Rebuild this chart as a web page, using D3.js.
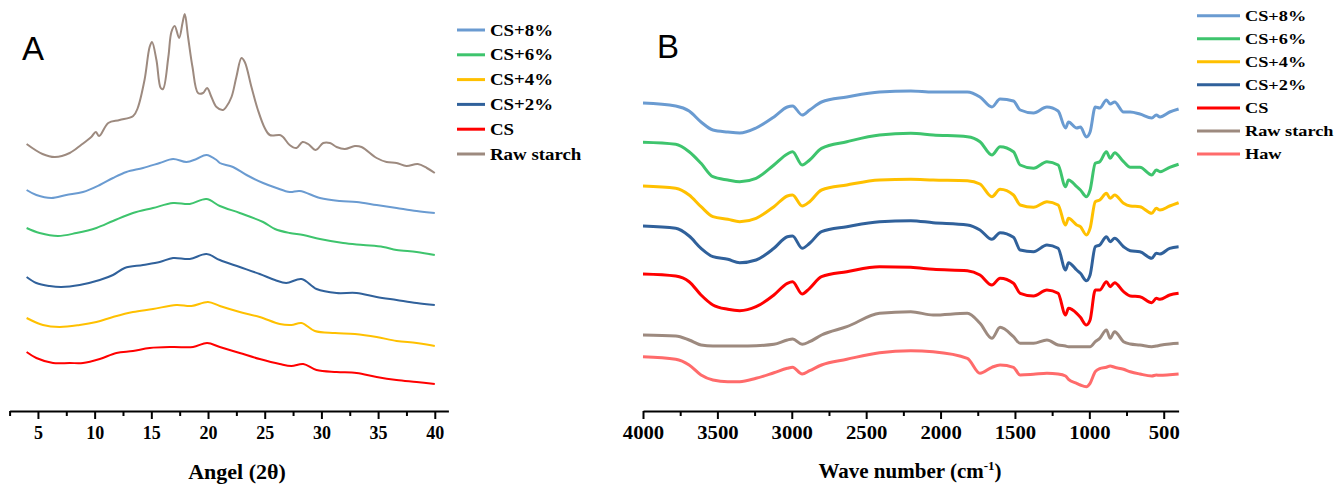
<!DOCTYPE html>
<html>
<head>
<meta charset="utf-8">
<script src="https://cdn.jsdelivr.net/npm/d3@7/dist/d3.min.js"></script>
<style>
  body { margin: 0; background: #fff; }
  svg { display: block; }
</style>
</head>
<body>
<div id="my_dataviz"></div>
<script>
// ---- data ----
// A: XRD patterns, [angle 2theta, intensity (a.u., stacked)]
const rawStarchXrd = [[4,267],[5.4,257],[6.5,254],[7.8,258],[8.8,266],[9.7,274],[10.1,279],[10.4,275],[11.2,288],[12.2,291],[13.4,295],[13.8,303],[14.4,331],[14.85,364],[15.06,369],[15.45,351],[15.83,323],[16.03,322],[16.5,354],[16.77,379],[17.06,385],[17.45,373],[17.75,388],[17.95,397],[18.24,374],[18.63,344],[19.12,318],[19.56,318],[19.92,323],[20.3,314],[20.75,304],[21.33,301],[21.6,304],[22.07,314],[22.5,334],[22.95,353],[23.24,349],[23.83,324],[24.4,301],[25.0,283],[25.45,276],[26.33,276],[26.62,274],[27.2,266],[27.8,263],[28.34,269],[28.83,267],[29.5,261],[30.16,268],[30.75,268],[31.34,264],[32.07,262],[32.95,265],[33.54,264],[34.87,253],[35.75,249],[36.63,248],[37.5,245],[38.5,247],[39.3,243],[40,238]];
const cs8Xrd = [[4,221],[4.86,216],[6.18,213],[7.5,216],[8.97,219],[10.45,226],[11.62,233],[12.8,239],[14.27,243],[15.74,248],[16.92,252],[18.1,249],[18.98,252],[19.86,256],[20.75,251],[21.04,248],[22.2,244],[23.4,236],[24.86,228],[26.04,223],[27.2,219],[28.1,220],[29.87,213],[31.63,210],[33.1,209],[34.87,206],[36.63,203],[38.4,200],[40,198]];
const cs6Xrd = [[4,183],[5.15,178],[6.77,175],[8.39,178],[10.15,183],[11.62,190],[13.38,198],[15.15,203],[16.92,208],[18.39,207],[19.86,212],[21.04,205],[22.8,198],[24.86,189],[25.9,182],[27.2,178],[28.4,176],[29.87,172],[31.92,168],[33.69,166],[35.45,164],[36.63,161],[38.4,159],[40,156]];
const cs2Xrd = [[4,134],[4.86,128],[6.03,125],[7.06,124],[8.68,126],[10.45,131],[11.62,136],[12.65,143],[14.27,146],[15.74,149],[16.92,153],[18.39,152],[19.86,157],[21.04,151],[22.8,144],[24.56,137],[25.9,131],[26.9,128],[28.25,132],[29.57,122],[31.34,118],[33.1,118],[34.87,114],[36.63,111],[38.4,108],[40,106]];
const cs4Xrd = [[4,93],[5.44,86],[6.9,84],[8.68,86],[10.15,89],[11.62,94],[13.38,99],[15.15,102],[17.2,106],[18.54,105],[20,109],[21.04,105],[22.8,99],[24.56,94],[26.33,87],[27.35,86],[28.25,88],[29.42,80],[31.2,78],[32.95,77],[34.87,74],[36.63,70],[38.4,68],[40,65]];
const csXrd = [[4,59],[4.86,53],[6.33,48],[7.8,48],[8.97,48],[10.45,52],[11.92,58],[13.38,60],[14.86,63],[16.92,64],[18.68,64],[19.92,68],[21.04,64],[22.8,58],[24.56,52],[26.33,47],[27.35,45],[28.4,47],[29.57,41],[31.34,39],[33.1,38],[34.87,34],[36.63,31],[38.4,29],[40,27]];

const xrdTicks = [5, 10, 15, 20, 25, 30, 35, 40];
const xrdMinorTicks = [2.5, 7.5, 12.5, 17.5, 22.5, 27.5, 32.5, 37.5];

// B: FTIR spectra, transmittance (a.u., stacked) at common wave numbers
const wavenumbers = [4000, 3780, 3690, 3610, 3530, 3430, 3350, 3240, 3120, 3030, 2995, 2930, 2880, 2800, 2630, 2410, 2200, 2050, 1820, 1735, 1655, 1600, 1510, 1465, 1375, 1285, 1210, 1160, 1140, 1085, 1060, 1020, 995, 960, 930, 885, 860, 830, 770, 725, 660, 580, 550, 525, 460, 400];
const cs8Ftir = [308, 305, 300, 289, 281, 279, 278, 283, 294, 304, 305, 296, 301, 309, 314, 319, 320, 319, 319, 314, 304, 312, 310, 301, 298, 304, 300, 283, 289, 283, 284, 274, 279, 304, 303, 311, 307, 309, 299, 299, 297, 293, 296, 294, 299, 302];
const cs6Ftir = [268.7, 266.7, 259.3, 247.7, 234.3, 231, 229.3, 232.7, 246, 257, 259.3, 246, 251, 262.7, 269.3, 276, 277.7, 276, 274.3, 269.3, 256, 264.3, 259.3, 246, 242.7, 249.3, 246, 224.3, 231, 224.3, 221, 214.3, 221, 247.7, 249.3, 259.3, 252.7, 258.3, 249.3, 243.7, 243.7, 236, 241, 239.3, 243.7, 246.7];
const cs4Ftir = [225, 222.7, 216, 204.3, 194.3, 191.7, 189.3, 192.7, 204.3, 215, 216, 205, 209.3, 221, 226, 231, 231.7, 231, 230.3, 227, 214.3, 221.7, 216, 206, 203.7, 209.3, 206, 186, 192.7, 186, 184.3, 176, 182.7, 209.3, 211, 217.7, 212.7, 216, 207.7, 205, 204.3, 197.7, 202.7, 201, 205, 208.3];
const cs2Ftir = [185, 182.7, 175, 162.7, 154.3, 151.7, 148.3, 151, 162.7, 174.3, 175, 162.7, 167.7, 179.3, 184.3, 189.3, 190.3, 188.3, 186, 181, 171.7, 178.3, 173.7, 161, 159.3, 166, 162.7, 141, 148.3, 141, 137.7, 130.3, 136, 164.3, 166, 174.3, 169.3, 172.7, 164.3, 160.3, 159.3, 152.7, 157.7, 157, 162.7, 164.3];
const csFtir = [137, 135, 129.3, 116, 106, 101.7, 100.3, 104.3, 116, 127.7, 129.3, 117, 122.7, 134.3, 139.3, 144.3, 143.7, 141.7, 140.3, 136, 126, 132.7, 127.7, 117.7, 115, 121, 117.7, 96, 102.7, 97.7, 93.7, 86, 91, 121, 121, 129.3, 124.3, 128.3, 119.3, 115, 114.3, 108.3, 112.7, 111.7, 116, 117.7];
const rawStarchFtir = [76, 75, 71, 66, 65, 65, 65, 65.3, 66.7, 71, 72, 66.7, 69.3, 76, 84.3, 97.7, 99.3, 96, 97.7, 87.7, 72.7, 83.7, 74.3, 67.7, 67.7, 71, 66, 65, 64.3, 64.3, 64.3, 64.3, 64.3, 69.3, 72.7, 81, 72.7, 79.3, 69.3, 67, 66, 64.3, 65, 65.7, 67, 67.7];
const hawFtir = [54.3, 51.7, 46, 36, 31, 29.3, 29.3, 32.7, 38.3, 42.7, 43.7, 37, 40.3, 46, 51.7, 58.3, 60.3, 59.3, 52.7, 37.7, 43.7, 46, 43.7, 36, 36.7, 37.7, 37, 35, 31.7, 27.7, 26, 24.3, 27.7, 39.3, 42.3, 43.7, 45, 43.7, 41.7, 39.3, 37, 35, 36, 35.7, 36.3, 37];

const ftirTicks = [4000, 3500, 3000, 2500, 2000, 1500, 1000, 500];
const ftirMinorTicks = [3750, 3250, 2750, 2250, 1750, 1250, 750];

const seriesColors = {
  "CS+8%": "#6a9bd1",
  "CS+6%": "#3ec46d",
  "CS+4%": "#ffc000",
  "CS+2%": "#30619b",
  "CS": "#ff0000",
  "Raw starch": "#9d8a7f",
  "Haw": "#ff6b6b"
};

const xrdSeries = [
  { name: "CS+8%", values: cs8Xrd },
  { name: "CS+6%", values: cs6Xrd },
  { name: "CS+4%", values: cs4Xrd },
  { name: "CS+2%", values: cs2Xrd },
  { name: "CS", values: csXrd },
  { name: "Raw starch", values: rawStarchXrd }
];

const ftirSeries = [
  { name: "CS+8%", values: cs8Ftir },
  { name: "CS+6%", values: cs6Ftir },
  { name: "CS+4%", values: cs4Ftir },
  { name: "CS+2%", values: cs2Ftir },
  { name: "CS", values: csFtir },
  { name: "Raw starch", values: rawStarchFtir },
  { name: "Haw", values: hawFtir }
];

const serif = "'Liberation Serif', 'Times New Roman', serif";
const sans = "'Liberation Sans', Arial, sans-serif";
const axisY = 411;

const svg = d3.select("#my_dataviz")
  .append("svg")
  .attr("width", 1335)
  .attr("height", 487);

// intensity scale shared by both panels (no y axis drawn)
const y = d3.scaleLinear().domain([0, 400]).range([axisY, 11]);

function styleAxis(g) {
  g.select(".domain").attr("stroke", "#000").attr("stroke-width", 2);
  g.selectAll(".tick line").attr("stroke", "#000").attr("stroke-width", 2);
  g.selectAll(".tick text")
    .attr("font-family", serif)
    .attr("font-weight", "bold")
    .attr("font-size", 18)
    .attr("fill", "#000");
}

function drawAxis(x, major, minor, labelStretch) {
  const g = svg.append("g").attr("transform", "translate(0," + axisY + ")");
  g.call(d3.axisBottom(x).tickValues(major).tickSize(8).tickSizeOuter(0).tickPadding(7).tickFormat(d3.format("d")));
  styleAxis(g);
  g.selectAll(".tick text").attr("transform", "scale(" + labelStretch + ",1)");

  // minor ticks, no labels
  const gm = svg.append("g").attr("transform", "translate(0," + axisY + ")");
  gm.call(d3.axisBottom(x).tickValues(minor).tickSize(5).tickFormat(""));
  gm.select(".domain").remove();
  gm.selectAll(".tick line").attr("stroke", "#000").attr("stroke-width", 2);
}

function drawLegend(items, x0, y0, step, lineLen, fontSize, strokeW) {
  items.forEach(function(name, i) {
    const yy = y0 + i * step;
    svg.append("line")
      .attr("x1", x0).attr("x2", x0 + lineLen)
      .attr("y1", yy).attr("y2", yy)
      .attr("stroke", seriesColors[name])
      .attr("stroke-width", strokeW);
    svg.append("text")
      .attr("transform", "translate(" + (x0 + lineLen + 5) + "," + yy + ") scale(1.18,1)")
      .attr("dy", "0.35em")
      .attr("font-family", serif)
      .attr("font-weight", "bold")
      .attr("font-size", fontSize)
      .attr("fill", "#000")
      .text(name);
  });
}

// ---- panel A: XRD ----
const xA = d3.scaleLinear().domain([2.5, 41.2]).range([9.6, 448.4]);
const lineA = d3.line()
  .x(d => xA(d[0]))
  .y(d => y(d[1]))
  .curve(d3.curveCatmullRom.alpha(0.5));

svg.selectAll("path.xrd")
  .data(xrdSeries)
  .enter()
  .append("path")
  .attr("class", "xrd")
  .attr("d", d => lineA(d.values))
  .attr("fill", "none")
  .attr("stroke", d => seriesColors[d.name])
  .attr("stroke-width", 2);

drawAxis(xA, xrdTicks, xrdMinorTicks, 1);

svg.append("text")
  .attr("x", 237).attr("y", 479)
  .attr("text-anchor", "middle")
  .attr("font-family", serif).attr("font-weight", "bold").attr("font-size", 22)
  .text("Angel (2θ)");

svg.append("text")
  .attr("x", 22).attr("y", 60)
  .attr("font-family", sans).attr("font-size", 33)
  .text("A");

drawLegend(xrdSeries.map(d => d.name), 457, 30, 24.8, 28, 16, 3);

// ---- panel B: FTIR ----
const xB = d3.scaleLinear().domain([4000, 400]).range([643, 1178.6]);
const lineB = d3.line()
  .x((d, i) => xB(wavenumbers[i]))
  .y(d => y(d))
  .curve(d3.curveMonotoneX);

svg.selectAll("path.ftir")
  .data(ftirSeries)
  .enter()
  .append("path")
  .attr("class", "ftir")
  .attr("d", d => lineB(d.values))
  .attr("fill", "none")
  .attr("stroke", d => seriesColors[d.name])
  .attr("stroke-width", 3)
  .attr("stroke-linejoin", "round");

drawAxis(xB, ftirTicks, ftirMinorTicks, 1.15);

const titleB = svg.append("text")
  .attr("x", 910).attr("y", 478)
  .attr("text-anchor", "middle")
  .attr("font-family", serif).attr("font-weight", "bold").attr("font-size", 21);
titleB.append("tspan").text("Wave number (cm");
titleB.append("tspan").attr("font-size", 13).attr("dy", -8).text("-1");
titleB.append("tspan").attr("dy", 8).text(")");

svg.append("text")
  .attr("x", 657).attr("y", 58)
  .attr("font-family", sans).attr("font-size", 33)
  .text("B");

drawLegend(ftirSeries.map(d => d.name), 1197, 15.7, 23.05, 43, 15.5, 3);
</script>
</body>
</html>
